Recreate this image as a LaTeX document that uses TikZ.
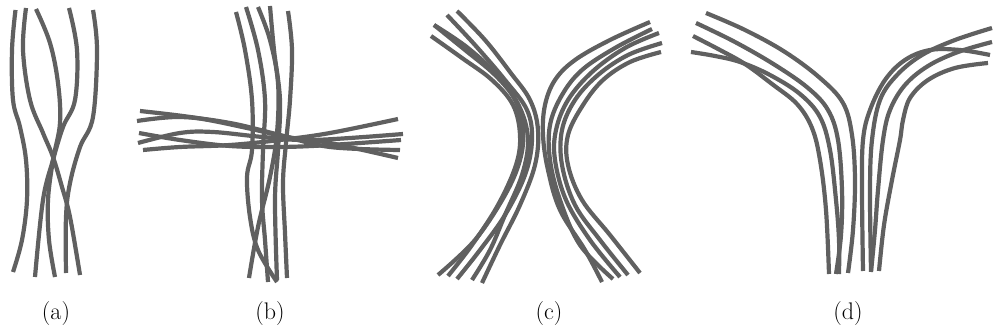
\documentclass[tikz,border=0pt]{standalone}
\usepackage{fontspec}
\newcommand{\capfont}{\fontsize{24}{28}\selectfont}
\begin{document}
\definecolor{fibre}{RGB}{96,96,96}
\begin{tikzpicture}[x=1pt,y=-1pt,
  strand/.style={draw=fibre,line width=4.2pt,line cap=butt},
  lbl/.style={text=black,inner sep=0pt}]
\useasboundingbox (0,0) rectangle (993,331);

% (a) loosely twisted vertical strands
\draw[strand] plot[smooth,tension=0.6] coordinates {(15.5,10) (12,50) (13,100) (20,127) (26,160) (27,200) (22,240) (13,272)};
\draw[strand] plot[smooth,tension=0.6] coordinates {(26,8) (23,50) (30,100) (43,133) (53,157) (62,187) (70,217) (80,275)};
\draw[strand] plot[smooth,tension=0.6] coordinates {(36,9) (50,43) (58,83) (60,123) (53,160) (48,200) (49,240) (55,277)};
\draw[strand] plot[smooth,tension=0.6] coordinates {(69,8) (77,50) (75,100) (63,127) (53,160) (43,200) (35,277)};
\draw[strand] plot[smooth,tension=0.6] coordinates {(93,10) (97,50) (93,117) (80,147) (70,183) (66,217) (66,273)};

% (b) vertical bundle crossing a horizontal bundle
\draw[strand] plot[smooth,tension=0.6] coordinates {(236,12) (245,50) (252,100) (252,150) (247,177) (250,217) (258,250) (277,282)};
\draw[strand] plot[smooth,tension=0.6] coordinates {(246,7) (258,50) (265,100) (263,150) (262,200) (265,240) (268,282)};
\draw[strand] plot[smooth,tension=0.6] coordinates {(258,7) (270,40) (278,83) (277,133) (270,177) (258,227) (249,278)};
\draw[strand] plot[smooth,tension=0.6] coordinates {(270,6) (274,50) (280,100) (278,150) (275,200) (277,280)};
\draw[strand] plot[smooth,tension=0.6] coordinates {(288,11) (292,50) (290,100) (286,143) (283,183) (285,233) (287,278)};
\draw[strand] plot[smooth,tension=0.6] coordinates {(140,111) (197,118) (247,128) (287,137) (330,143) (398,158)};
\draw[strand] plot[smooth,tension=0.6] coordinates {(137,121) (180,117) (230,123) (280,135) (330,147) (400,150)};
\draw[strand] plot[smooth,tension=0.6] coordinates {(139,133) (180,140) (230,146) (280,147) (330,145) (401,140)};
\draw[strand] plot[smooth,tension=0.6] coordinates {(138,143) (180,133) (213,132) (263,137) (313,140) (403,134)};
\draw[strand] plot[smooth,tension=0.6] coordinates {(143,150) (180,147) (230,145) (280,140) (330,133) (398,119)};

% (c) two bundles touching at a waist
\draw[strand] plot[smooth,tension=0.6] coordinates {(457,11) (485,40) (510,72) (530,100) (538,130) (535,165) (520,205) (500,245) (482,283)};
\draw[strand] plot[smooth,tension=0.6] coordinates {(447,15) (475,45) (505,80) (527,110) (532,140) (525,175) (505,215) (480,250) (457,279)};
\draw[strand] plot[smooth,tension=0.6] coordinates {(434,25) (465,50) (495,75) (515,100) (523,130) (520,160) (505,195) (475,240) (438,275)};
\draw[strand] plot[smooth,tension=0.6] coordinates {(431,36) (462,58) (492,80) (513,105) (520,135) (516,165) (498,205) (472,245) (448,276)};
\draw[strand] plot[smooth,tension=0.6] coordinates {(434,25) (468,48) (500,78) (520,108) (528,140) (522,175) (505,215) (490,250) (472,280)};
\draw[strand] plot[smooth,tension=0.6] coordinates {(650,22) (610,40) (575,60) (555,80) (545,105) (543,135) (548,170) (560,210) (585,250) (602,282)};
\draw[strand] plot[smooth,tension=0.6] coordinates {(652,29) (615,48) (582,70) (562,95) (550,125) (550,160) (560,200) (580,245) (613,279)};
\draw[strand] plot[smooth,tension=0.6] coordinates {(659,33) (625,48) (592,72) (568,100) (556,130) (555,160) (566,200) (590,240) (620,277)};
\draw[strand] plot[smooth,tension=0.6] coordinates {(662,43) (628,55) (598,75) (575,100) (562,130) (562,165) (575,205) (600,240) (628,275)};
\draw[strand] plot[smooth,tension=0.6] coordinates {(661,52) (630,62) (603,80) (583,105) (568,135) (568,165) (582,200) (610,235) (640,273)};

% (d) two bundles merging into a stem
\draw[strand] plot[smooth,tension=0.6] coordinates {(706,13) (745,30) (785,52) (820,78) (843,103) (852,135) (855,180) (853,230) (848,273)};
\draw[strand] plot[smooth,tension=0.6] coordinates {(696,23) (735,42) (775,65) (808,88) (828,110) (838,140) (842,190) (841,235) (836,274)};
\draw[strand] plot[smooth,tension=0.6] coordinates {(693,36) (720,50) (745,64) (772,84) (797,104) (812,128) (820,160) (826,210) (829,274)};
\draw[strand] plot[smooth,tension=0.6] coordinates {(691,52) (715,56) (740,62) (770,75) (800,94) (820,117) (830,150) (836,200) (839,240) (839,274)};
\draw[strand] plot[smooth,tension=0.6] coordinates {(992,28) (955,40) (922,55) (897,75) (880,100) (872,140) (870,190) (871,271)};
\draw[strand] plot[smooth,tension=0.6] coordinates {(992,42) (958,52) (928,66) (905,85) (890,110) (883,140) (878,190) (875,230) (871,272)};
\draw[strand] plot[smooth,tension=0.6] coordinates {(990,55) (960,50) (930,50) (905,60) (885,80) (870,110) (863,140) (862,190) (863,271)};
\draw[strand] plot[smooth,tension=0.6] coordinates {(988,63) (955,68) (928,80) (910,98) (903,120) (900,140) (892,180) (884,225) (879,271)};

% captions
\node[lbl] (capa) at (56,314) {\capfont (a)};
\node[lbl] (capb) at (270,314) {\capfont (b)};
\node[lbl] (capc) at (549,314) {\capfont (c)};
\node[lbl] (capd) at (848,314) {\capfont (d)};
\end{tikzpicture}
\end{document}
